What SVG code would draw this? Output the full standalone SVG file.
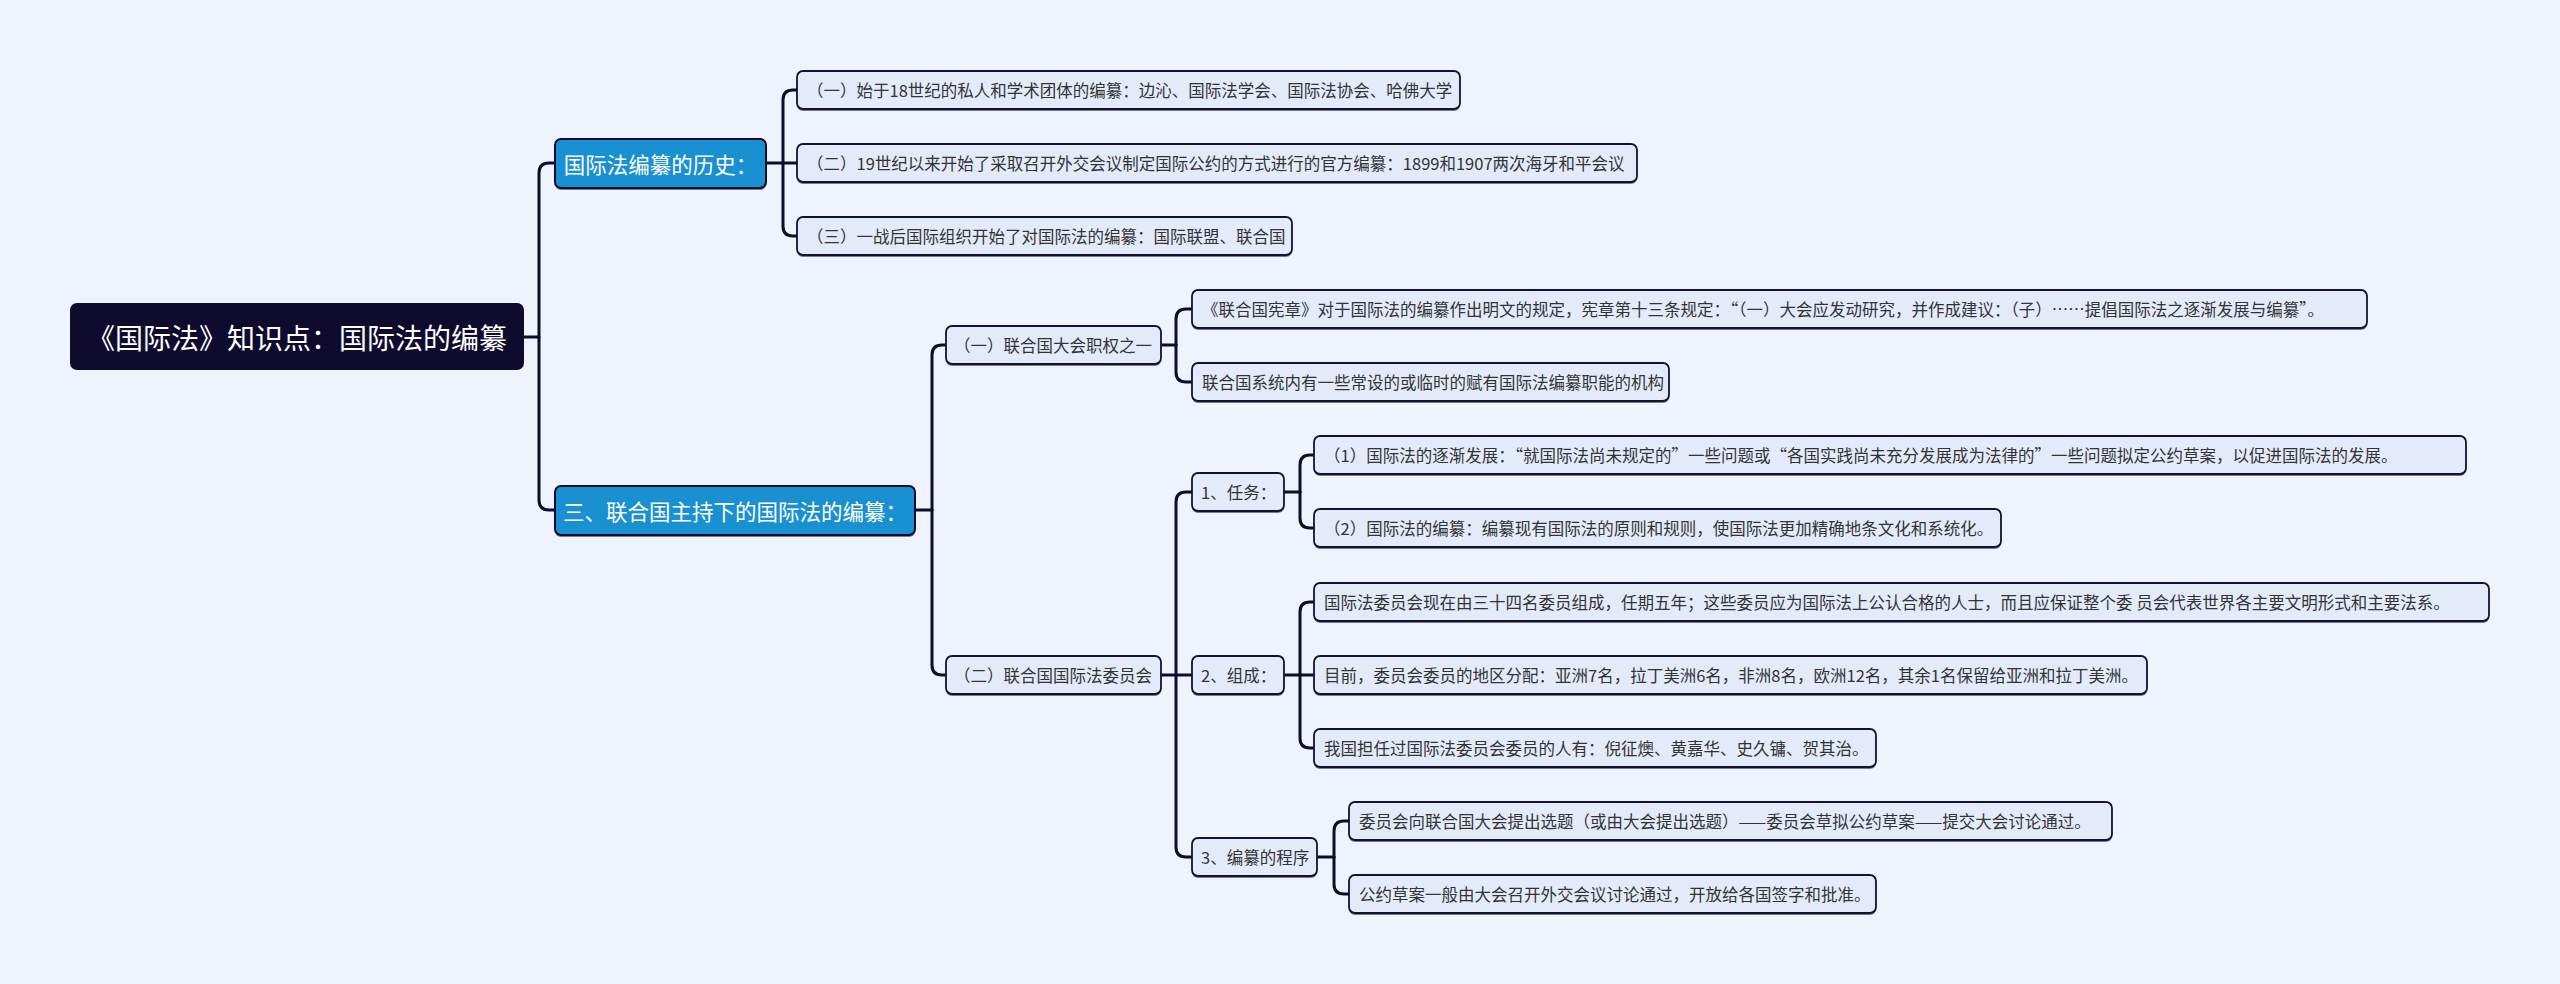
<svg xmlns="http://www.w3.org/2000/svg" width="2560" height="984" viewBox="0 0 2560 984">
<style>
.bg{fill:#eef3fd}
.conn path{fill:none;stroke:#0f0c2c;stroke-width:3;stroke-linecap:round;stroke-linejoin:round}
.leaf rect.b{fill:#e3ebfa;stroke:#14122e;stroke-width:1.8}
.shadow{fill:#14122e;opacity:0.55}
.lt{font-family:"Noto Sans CJK SC","Liberation Sans",sans-serif;font-size:16.5px;fill:#333333;dominant-baseline:central}
.l1 rect.b{fill:#1890d1;stroke:#0f0c2c;stroke-width:2}
.l1t{font-family:"Noto Sans CJK SC","Liberation Sans",sans-serif;font-size:21.5px;fill:#ffffff;dominant-baseline:central;text-anchor:middle}
.root rect{fill:#0e0b2f}
.rt{font-family:"Noto Sans CJK SC","Liberation Sans",sans-serif;font-size:28px;fill:#ffffff;dominant-baseline:central;text-anchor:middle}
</style>
<rect class="bg" x="0" y="0" width="2560" height="984"/>
<g class="conn">
<path d="M524,337 H539 V173 Q539,163 549,163 H555"/>
<path d="M539,337 V500 Q539,510 549,510 H555"/>
<path d="M766,163 H797"/>
<path d="M783,163 V100 Q783,90 793,90 H797"/>
<path d="M783,163 V226 Q783,236 793,236 H797"/>
<path d="M915,510 H932"/>
<path d="M932,510 V355 Q932,345 942,345 H946"/>
<path d="M932,510 V665 Q932,675 942,675 H946"/>
<path d="M1161,345 H1176"/>
<path d="M1176,345 V319 Q1176,309 1186,309 H1192"/>
<path d="M1176,345 V372 Q1176,382 1186,382 H1192"/>
<path d="M1161,675 H1192"/>
<path d="M1176,675 V502 Q1176,492 1186,492 H1192"/>
<path d="M1176,675 V847 Q1176,857 1186,857 H1192"/>
<path d="M1284,492 H1300"/>
<path d="M1300,492 V465 Q1300,455 1310,455 H1314"/>
<path d="M1300,492 V518 Q1300,528 1310,528 H1314"/>
<path d="M1284,675 H1314"/>
<path d="M1300,675 V612 Q1300,602 1310,602 H1314"/>
<path d="M1300,675 V738 Q1300,748 1310,748 H1314"/>
<path d="M1317,857 H1334"/>
<path d="M1334,857 V831 Q1334,821 1344,821 H1349"/>
<path d="M1334,857 V884 Q1334,894 1344,894 H1349"/>
</g>
<g id="root" class="root">
<rect x="70" y="303" width="454" height="67" rx="7"/>
<text class="rt" x="297" y="337">《国际法》知识点：国际法的编纂</text>
</g>
<g id="n-history" class="l1">
<rect class="shadow" x="555" y="141" width="211" height="49" rx="6"/>
<rect class="b" x="555" y="139" width="211" height="49" rx="6"/>
<text class="l1t" x="660.5" y="163.5">国际法编纂的历史：</text>
</g>
<g id="n-un" class="l1">
<rect class="shadow" x="555" y="488" width="360" height="49" rx="6"/>
<rect class="b" x="555" y="486" width="360" height="49" rx="6"/>
<text class="l1t" x="735" y="510.5">三、联合国主持下的国际法的编纂：</text>
</g>
<g id="h1" class="leaf">
<rect class="shadow" x="797" y="73" width="663" height="38" rx="6"/>
<rect class="b" x="797" y="71" width="663" height="38" rx="6"/>
<text class="lt" x="807" y="90">（一）始于18世纪的私人和学术团体的编纂：边沁、国际法学会、国际法协会、哈佛大学</text>
</g>
<g id="h2" class="leaf">
<rect class="shadow" x="797" y="146" width="840" height="38" rx="6"/>
<rect class="b" x="797" y="144" width="840" height="38" rx="6"/>
<text class="lt" x="807" y="163">（二）19世纪以来开始了采取召开外交会议制定国际公约的方式进行的官方编纂：1899和1907两次海牙和平会议</text>
</g>
<g id="h3" class="leaf">
<rect class="shadow" x="797" y="219" width="495" height="38" rx="6"/>
<rect class="b" x="797" y="217" width="495" height="38" rx="6"/>
<text class="lt" x="807" y="236">（三）一战后国际组织开始了对国际法的编纂：国际联盟、联合国</text>
</g>
<g id="u1" class="leaf">
<rect class="shadow" x="946" y="328" width="215" height="38" rx="6"/>
<rect class="b" x="946" y="326" width="215" height="38" rx="6"/>
<text class="lt" x="954" y="345">（一）联合国大会职权之一</text>
</g>
<g id="u2" class="leaf">
<rect class="shadow" x="946" y="658" width="215" height="38" rx="6"/>
<rect class="b" x="946" y="656" width="215" height="38" rx="6"/>
<text class="lt" x="954" y="675">（二）联合国国际法委员会</text>
</g>
<g id="u1a" class="leaf">
<rect class="shadow" x="1192" y="292" width="1175" height="38" rx="6"/>
<rect class="b" x="1192" y="290" width="1175" height="38" rx="6"/>
<text class="lt" x="1202" y="309">《联合国宪章》对于国际法的编纂作出明文的规定，宪章第十三条规定：“（一）大会应发动研究，并作成建议：（子）……提倡国际法之逐渐发展与编纂”。</text>
</g>
<g id="u1b" class="leaf">
<rect class="shadow" x="1192" y="365" width="477" height="38" rx="6"/>
<rect class="b" x="1192" y="363" width="477" height="38" rx="6"/>
<text class="lt" x="1202" y="382">联合国系统内有一些常设的或临时的赋有国际法编纂职能的机构</text>
</g>
<g id="task" class="leaf">
<rect class="shadow" x="1192" y="475" width="92" height="38" rx="6"/>
<rect class="b" x="1192" y="473" width="92" height="38" rx="6"/>
<text class="lt" x="1201" y="492">1、任务：</text>
</g>
<g id="comp" class="leaf">
<rect class="shadow" x="1192" y="658" width="92" height="38" rx="6"/>
<rect class="b" x="1192" y="656" width="92" height="38" rx="6"/>
<text class="lt" x="1201" y="675">2、组成：</text>
</g>
<g id="proc" class="leaf">
<rect class="shadow" x="1192" y="840" width="125" height="38" rx="6"/>
<rect class="b" x="1192" y="838" width="125" height="38" rx="6"/>
<text class="lt" x="1201" y="857">3、编纂的程序</text>
</g>
<g id="task1" class="leaf">
<rect class="shadow" x="1314" y="438" width="1152" height="38" rx="6"/>
<rect class="b" x="1314" y="436" width="1152" height="38" rx="6"/>
<text class="lt" x="1324" y="455">（1）国际法的逐渐发展：“就国际法尚未规定的”一些问题或“各国实践尚未充分发展成为法律的”一些问题拟定公约草案，以促进国际法的发展。</text>
</g>
<g id="task2" class="leaf">
<rect class="shadow" x="1314" y="511" width="687" height="38" rx="6"/>
<rect class="b" x="1314" y="509" width="687" height="38" rx="6"/>
<text class="lt" x="1324" y="528">（2）国际法的编纂：编纂现有国际法的原则和规则，使国际法更加精确地条文化和系统化。</text>
</g>
<g id="comp1" class="leaf">
<rect class="shadow" x="1314" y="585" width="1175" height="38" rx="6"/>
<rect class="b" x="1314" y="583" width="1175" height="38" rx="6"/>
<text class="lt" x="1324" y="602">国际法委员会现在由三十四名委员组成，任期五年；这些委员应为国际法上公认合格的人士，而且应保证整个委 员会代表世界各主要文明形式和主要法系。</text>
</g>
<g id="comp2" class="leaf">
<rect class="shadow" x="1314" y="658" width="833" height="38" rx="6"/>
<rect class="b" x="1314" y="656" width="833" height="38" rx="6"/>
<text class="lt" x="1324" y="675">目前，委员会委员的地区分配：亚洲7名，拉丁美洲6名，非洲8名，欧洲12名，其余1名保留给亚洲和拉丁美洲。</text>
</g>
<g id="comp3" class="leaf">
<rect class="shadow" x="1314" y="731" width="562" height="38" rx="6"/>
<rect class="b" x="1314" y="729" width="562" height="38" rx="6"/>
<text class="lt" x="1324" y="748">我国担任过国际法委员会委员的人有：倪征燠、黄嘉华、史久镛、贺其治。</text>
</g>
<g id="proc1" class="leaf">
<rect class="shadow" x="1349" y="804" width="763" height="38" rx="6"/>
<rect class="b" x="1349" y="802" width="763" height="38" rx="6"/>
<text class="lt" x="1359" y="821">委员会向联合国大会提出选题（或由大会提出选题）——委员会草拟公约草案——提交大会讨论通过。</text>
</g>
<g id="proc2" class="leaf">
<rect class="shadow" x="1349" y="877" width="527" height="38" rx="6"/>
<rect class="b" x="1349" y="875" width="527" height="38" rx="6"/>
<text class="lt" x="1359" y="894">公约草案一般由大会召开外交会议讨论通过，开放给各国签字和批准。</text>
</g>
</svg>
